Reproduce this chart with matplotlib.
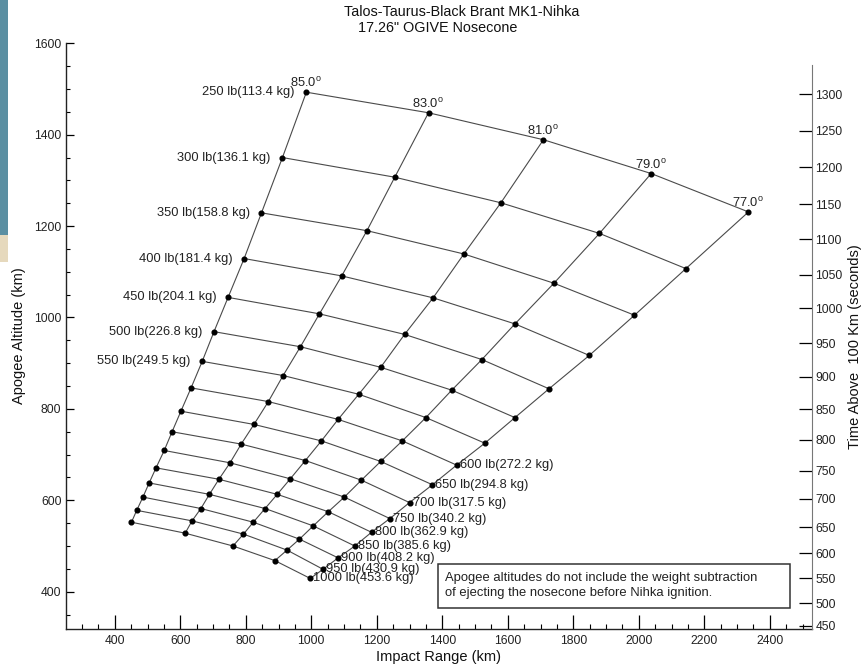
import matplotlib.pyplot as plt
import numpy as np
from matplotlib.patches import Rectangle
from matplotlib.ticker import MultipleLocator

plt.rcParams['font.family'] = ['Liberation Sans', 'DejaVu Sans']
plt.rcParams['mathtext.fontset'] = 'custom'
plt.rcParams['mathtext.rm'] = 'Liberation Sans'

# payload weights (rows of the grid)
weights_lb = [250, 300, 350, 400, 450, 500, 550, 600, 650, 700, 750, 800, 850, 900, 950, 1000]
weights_kg = [113.4, 136.1, 158.8, 181.4, 204.1, 226.8, 249.5, 272.2, 294.8, 317.5,
              340.2, 362.9, 385.6, 408.2, 430.9, 453.6]

# launch elevation angles (columns of the grid)
angles = [85.0, 83.0, 81.0, 79.0, 77.0]

# impact range (km) and apogee (km) for each angle, one value per weight
range_85 = [985, 912, 848, 795, 746, 703, 667, 633, 602, 575, 551, 526, 505, 486, 467, 451]
apogee_85 = [1493, 1350, 1229, 1129, 1044, 969, 904, 846, 795, 750, 709, 671, 638, 607, 578, 552]
range_83 = [1358, 1255, 1170, 1093, 1025, 967, 914, 869, 825, 786, 752, 718, 689, 663, 636, 615]
apogee_83 = [1448, 1307, 1190, 1091, 1008, 936, 873, 816, 766, 723, 682, 646, 613, 582, 555, 528]
range_81 = [1709, 1579, 1466, 1372, 1285, 1212, 1145, 1082, 1031, 982, 936, 896, 859, 823, 793, 761]
apogee_81 = [1389, 1251, 1139, 1043, 963, 891, 832, 777, 730, 687, 647, 613, 582, 552, 526, 500]
range_79 = [2038, 1880, 1741, 1622, 1521, 1429, 1350, 1278, 1212, 1153, 1101, 1052, 1006, 964, 926, 889]
apogee_79 = [1315, 1184, 1075, 986, 908, 841, 781, 730, 685, 644, 607, 575, 544, 515, 491, 468]
range_77 = [2335, 2144, 1987, 1849, 1726, 1622, 1530, 1444, 1370, 1300, 1240, 1184, 1133, 1082, 1036, 997]
apogee_77 = [1231, 1107, 1005, 917, 844, 781, 725, 677, 634, 595, 560, 530, 500, 474, 449, 429]

# right axis: time above 100 km (s) and the apogee it lines up with
time_ticks = [450, 500, 550, 600, 650, 700, 750, 800, 850, 900, 950, 1000, 1050, 1100, 1150, 1200, 1250, 1300]
time_tick_apogee = [326, 375, 429, 484, 541, 603, 665, 733, 799, 870, 944, 1020, 1093, 1171, 1248, 1329, 1409, 1489]

note = ("Apogee altitudes do not include the weight subtraction\n"
        "of ejecting the nosecone before Nihka ignition.")


def interp_ext(x, xp, fp):
    # linear interpolation that keeps going past both ends
    x = np.asarray(x, dtype=float)
    xp = np.asarray(xp, dtype=float)
    fp = np.asarray(fp, dtype=float)
    y = np.interp(x, xp, fp)
    lo = (fp[1] - fp[0]) / (xp[1] - xp[0])
    hi = (fp[-1] - fp[-2]) / (xp[-1] - xp[-2])
    y = np.where(x < xp[0], fp[0] + (x - xp[0]) * lo, y)
    y = np.where(x > xp[-1], fp[-1] + (x - xp[-1]) * hi, y)
    return y


def time_to_alt(t):
    return interp_ext(t, time_ticks, time_tick_apogee)


def alt_to_time(a):
    return interp_ext(a, time_tick_apogee, time_ticks)


rng = np.column_stack([range_85, range_83, range_81, range_79, range_77])
apo = np.column_stack([apogee_85, apogee_83, apogee_81, apogee_79, apogee_77])

W, H = 864, 669
fig = plt.figure(figsize=(W / 100, H / 100), dpi=100)
x0, x1 = 66.3, 812.0
y_bot, y_top, y_top2 = 629.3, 43.3, 65.0
ax = fig.add_axes([x0 / W, 1 - y_bot / H, (x1 - x0) / W, (y_bot - y_top) / H])
ymin, ymax = 317.7, 1600
ax.set_xlim(252, 2529)
ax.set_ylim(ymin, ymax)

line_col = '#4a4a4a'
for i in range(rng.shape[0]):
    ax.plot(rng[i], apo[i], color=line_col, lw=0.8, zorder=2)
for j in range(rng.shape[1]):
    ax.plot(rng[:, j], apo[:, j], color=line_col, lw=0.8, zorder=2)
ax.plot(rng.ravel(), apo.ravel(), 'o', ms=3.4, color='black', zorder=3)

txt_col = '#222222'
for i, (lb, kg) in enumerate(zip(weights_lb, weights_kg)):
    label = f"{lb} lb({kg:.1f} kg)"
    if lb <= 550:
        ax.annotate(label, (rng[i, 0], apo[i, 0]), xytext=(-8.5, 0), textcoords='offset points',
                    ha='right', va='center', fontsize=9.3, color=txt_col)
    else:
        ax.annotate(label, (rng[i, -1], apo[i, -1]), xytext=(2.2, 0), textcoords='offset points',
                    ha='left', va='center', fontsize=9.3, color=txt_col)

for j, a in enumerate(angles):
    ax.annotate(f"{a:.1f}$^\\mathrm{{o}}$", (rng[0, j], apo[0, j]), xytext=(-0.5, 3.5),
                textcoords='offset points', ha='center', va='baseline', fontsize=9.3, color=txt_col)

ax.xaxis.set_major_locator(MultipleLocator(200))
ax.xaxis.set_minor_locator(MultipleLocator(50))
ax.yaxis.set_major_locator(MultipleLocator(200))
ax.yaxis.set_minor_locator(MultipleLocator(50))
ax.tick_params(axis='x', which='major', direction='in', length=10, width=0.9, pad=4,
               labelsize=8.7, labelcolor='#222222')
ax.tick_params(axis='x', which='minor', direction='in', length=3.6, width=0.8)
ax.tick_params(axis='y', which='major', direction='in', length=5.5, width=0.9, pad=3.5,
               labelsize=8.7, labelcolor='#222222')
ax.tick_params(axis='y', which='minor', direction='in', length=3, width=0.8)
for s in ['top', 'right']:
    ax.spines[s].set_visible(False)
for s in ['left', 'bottom']:
    ax.spines[s].set_linewidth(1.0)
    ax.spines[s].set_color('#222222')

# right hand time axis, shorter than the left one and not linear
ax2 = fig.add_axes([x0 / W, 1 - y_bot / H, (x1 - x0) / W, (y_bot - y_top2) / H])
ax2.patch.set_visible(False)
ax2.set_yscale('function', functions=(time_to_alt, alt_to_time))
alt_top2 = ymin + (ymax - ymin) * (y_bot - y_top2) / (y_bot - y_top)
ax2.set_ylim(float(alt_to_time(ymin)), float(alt_to_time(alt_top2)))
ax2.set_yticks(time_ticks)
ax2.set_yticklabels([str(t) for t in time_ticks])
ax2.yaxis.tick_right()
ax2.set_xticks([])
for s in ['top', 'left', 'bottom']:
    ax2.spines[s].set_visible(False)
ax2.spines['right'].set_color('#777777')
ax2.tick_params(axis='y', which='major', direction='in', length=9.5, width=0.9, pad=2.5,
                labelsize=8.7, labelcolor='#222222')
ax2.tick_params(axis='y', which='minor', length=0)

# titles and axis labels
fig.text(462 / W, 1 - 12.5 / H, "Talos-Taurus-Black Brant MK1-Nihka", ha='center', va='center',
         fontsize=10.4, color='#111111')
fig.text(438 / W, 1 - 28.5 / H, '17.26" OGIVE Nosecone', ha='center', va='center',
         fontsize=10.4, color='#111111')
fig.text(438 / W, 1 - 657 / H, "Impact Range (km)", ha='center', va='center', fontsize=10.5,
         color='#111111')
fig.text(19.5 / W, 1 - 336 / H, "Apogee Altitude (km)", ha='center', va='center', rotation=90,
         fontsize=10.5, color='#111111')
fig.text(855 / W, 1 - 347 / H, "Time Above  100 Km (seconds)", ha='center', va='center',
         rotation=90, fontsize=10.5, color='#111111')

# note box
fig.patches.append(Rectangle((438 / W, 1 - 608 / H), 352 / W, 44 / H, transform=fig.transFigure,
                             facecolor='white', edgecolor='#333333', lw=1.1, zorder=5))
fig.text(445 / W, 1 - 585.5 / H, note, ha='left', va='center', fontsize=9.4, linespacing=1.3,
         color='#222222', zorder=6)

# strip of desktop showing at the left edge of the screenshot
fig.patches.append(Rectangle((0, 1 - 235 / H), 8 / W, 235 / H, transform=fig.transFigure,
                             facecolor='#5b8fa2', edgecolor='none'))
fig.patches.append(Rectangle((0, 1 - 262 / H), 8 / W, 27 / H, transform=fig.transFigure,
                             facecolor='#e6d9bd', edgecolor='none'))

fig.savefig('out.png', dpi=100)
